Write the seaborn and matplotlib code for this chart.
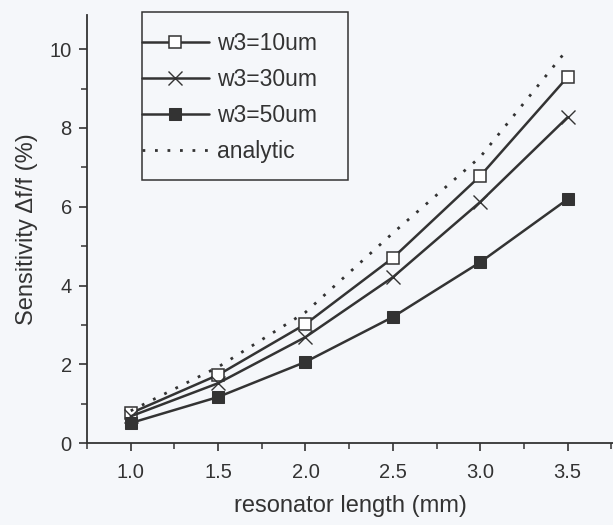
import numpy as np
import pandas as pd
import matplotlib
matplotlib.use("Agg")
import matplotlib.pyplot as plt
import seaborn as sns
from matplotlib.ticker import MultipleLocator
from matplotlib.patches import Rectangle

# values
length_mm = [1.0, 1.5, 2.0, 2.5, 3.0, 3.5]
w3_10um = [0.76, 1.73, 3.02, 4.70, 6.78, 9.29]
w3_30um = [0.68, 1.52, 2.69, 4.21, 6.12, 8.27]
w3_50um = [0.51, 1.17, 2.06, 3.20, 4.59, 6.19]
analytic = [0.82, 1.93, 3.32, 5.33, 7.26, 10.0]

sns.set_style("ticks")
plt.rcParams['font.family'] = ['Liberation Sans', 'DejaVu Sans']

bg = '#f5f7fa'
ink = '#333333'

fig = plt.figure(figsize=(6.13, 5.25), dpi=100, facecolor=bg)
ax = fig.add_axes([0.142, 0.156, 0.858, 0.815], facecolor=bg)

df = pd.DataFrame({'length': length_mm, 'w10': w3_10um, 'w30': w3_30um,
                   'w50': w3_50um, 'analytic': analytic})

sns.lineplot(data=df, x='length', y='w10', ax=ax, color=ink, lw=1.8,
             marker='s', markersize=8, markerfacecolor='white',
             markeredgecolor=ink, markeredgewidth=1.1, label='w3=10um')
sns.lineplot(data=df, x='length', y='w30', ax=ax, color=ink, lw=1.8,
             marker='x', markersize=10, markeredgecolor=ink,
             markeredgewidth=1.0, label='w3=30um')
sns.lineplot(data=df, x='length', y='w50', ax=ax, color=ink, lw=1.8,
             marker='s', markersize=8, markerfacecolor=ink,
             markeredgecolor=ink, label='w3=50um')
sns.lineplot(data=df, x='length', y='analytic', ax=ax, color=ink, lw=2.0,
             linestyle=(0, (1, 3.5)), label='analytic')

ax.set_xlim(0.75, 3.76)
ax.set_ylim(0, 10.86)
ax.xaxis.set_minor_locator(MultipleLocator(0.25))
ax.yaxis.set_major_locator(MultipleLocator(2))
ax.yaxis.set_minor_locator(MultipleLocator(1))
ax.set_xticks(length_mm)
ax.set_xticklabels([f'{v:.1f}' for v in length_mm])

sns.despine(ax=ax)
for s in ['left', 'bottom']:
    ax.spines[s].set_color(ink)
    ax.spines[s].set_linewidth(1.3)
ax.tick_params(which='major', length=6, width=1.2, colors=ink,
               labelsize=14.5, labelcolor=ink, pad=5)
ax.tick_params(axis='x', which='major', pad=8)
ax.tick_params(which='minor', length=4, width=1.1, colors=ink)

ax.set_xlabel('resonator length (mm)', fontsize=17, color=ink, labelpad=10)
ax.set_ylabel('Sensitivity \u0394f/f (%)', fontsize=17, color=ink, labelpad=8)

# legend without its own frame; box drawn around it afterwards
leg = ax.legend(loc='upper left', bbox_to_anchor=(0.1046, 0.96),
                borderaxespad=0, borderpad=0, fontsize=16.5, handlelength=2.9,
                handletextpad=0.35, labelspacing=0.56, frameon=False)
for t in leg.get_texts():
    t.set_color(ink)

fig.canvas.draw()
bb = leg.get_window_extent()
x0, x1 = bb.x0, bb.x0 + 206
y0, y1 = bb.y0 - 17, bb.y1 + 20
inv = ax.transAxes.inverted()
(ax0, ay0), (ax1, ay1) = inv.transform([(x0, y0), (x1, y1)])
ax.add_patch(Rectangle((ax0, ay0), ax1 - ax0, ay1 - ay0, transform=ax.transAxes,
                       facecolor=bg, edgecolor=ink, lw=1.1, zorder=4.5,
                       clip_on=False))

fig.savefig('out.png', dpi=100, facecolor=bg)
